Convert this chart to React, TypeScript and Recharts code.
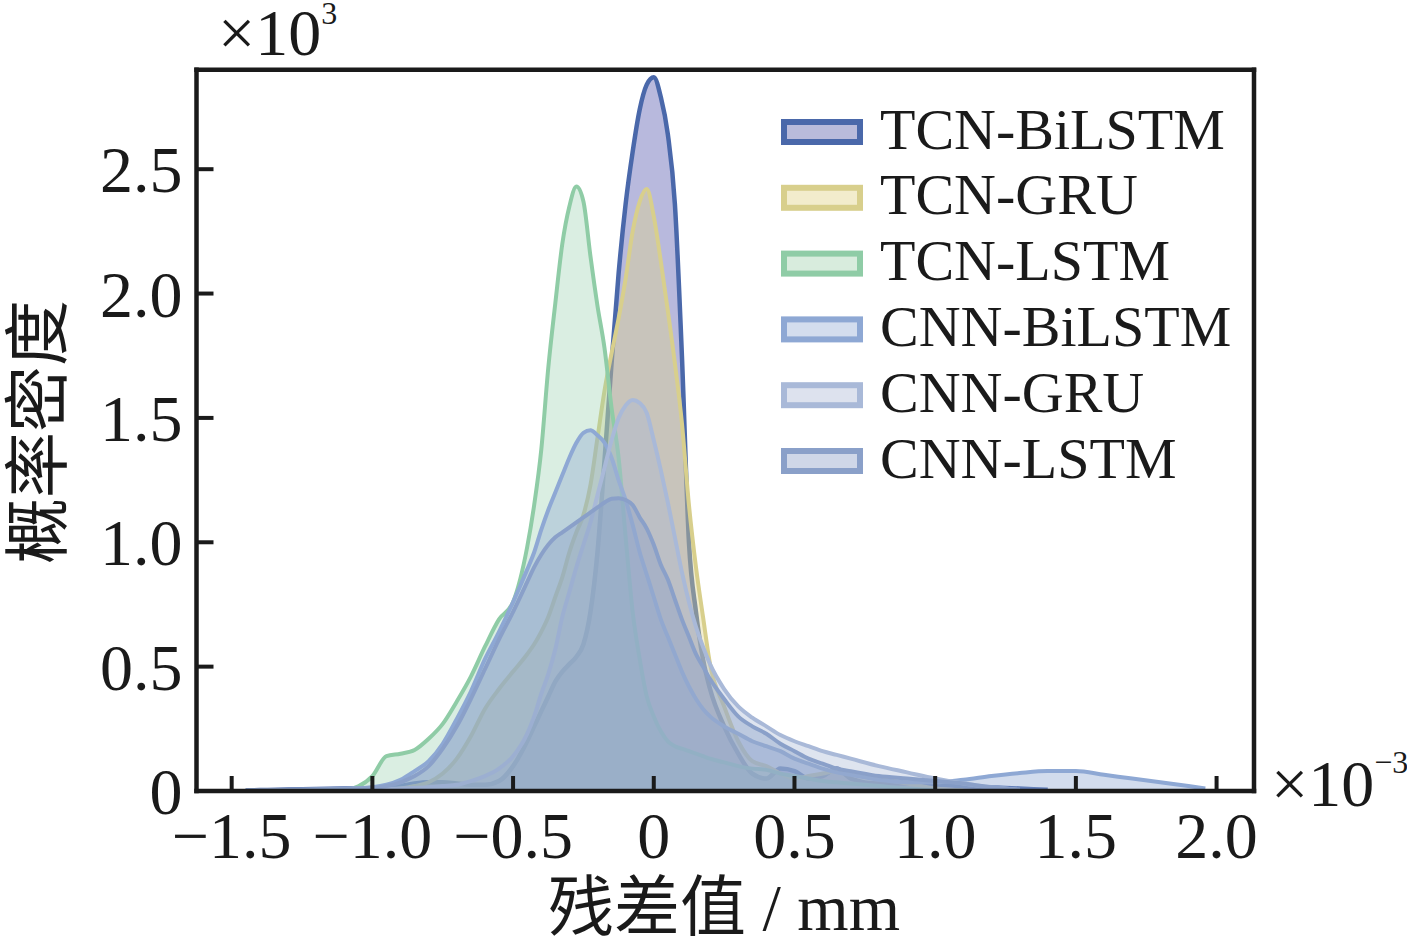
import { AreaChart, Area, XAxis, YAxis, Legend } from "recharts";

// residual (x10^-3 mm) sample points shared by all KDE curves
const X_VALUES = [
  -1.45, -1.4, -1.3, -1.2, -1.1, -1.0, -0.95, -0.9, -0.85, -0.8, -0.75, -0.7, -0.65, -0.6, -0.55, -0.5,
  -0.45, -0.425, -0.4, -0.375, -0.35, -0.325, -0.3, -0.275, -0.25, -0.225, -0.2, -0.175, -0.15, -0.125, -0.1, -0.075,
  -0.05, -0.025, 0, 0.025, 0.05, 0.075, 0.1, 0.125, 0.15, 0.175, 0.2, 0.25, 0.3, 0.35, 0.4, 0.45,
  0.5, 0.55, 0.6, 0.65, 0.7, 0.8, 0.9, 1.0, 1.1, 1.2, 1.3, 1.4, 1.5, 1.6, 1.7, 1.8, 1.9, 1.96,
];

// densities (x10^3)
const TCN_BILSTM = [
  0.002, 0.004, 0.006, 0.008, 0.01, 0.012, 0.015, 0.02, 0.03, 0.035, 0.035, 0.03, 0.025, 0.025, 0.04, 0.1,
  0.2, 0.26, 0.32, 0.38, 0.44, 0.48, 0.51, 0.54, 0.59, 0.72, 0.96, 1.33, 1.72, 2.08, 2.36, 2.57,
  2.74, 2.84, 2.87, 2.79, 2.64, 2.36, 1.75, 1.0, 0.72, 0.53, 0.41, 0.26, 0.15, 0.07, 0.05, 0.09,
  0.08, 0.05, 0.06, 0.09, 0.05, 0.03, 0.03, 0.025, 0.02, 0.015, 0.01, 0.005, null, null, null, null, null, null,
];
const TCN_GRU = [
  null, null, null, null, null, 0, 0.005, 0.01, 0.02, 0.035, 0.07, 0.13, 0.22, 0.33, 0.41, 0.48,
  0.55, 0.59, 0.64, 0.7, 0.78, 0.86, 0.96, 1.04, 1.11, 1.23, 1.42, 1.61, 1.76, 1.9, 2.06, 2.25,
  2.37, 2.42, 2.31, 2.13, 1.93, 1.72, 1.48, 1.15, 0.9, 0.7, 0.51, 0.34, 0.2, 0.12, 0.1, 0.07,
  0.05, 0.06, 0.07, 0.08, 0.07, 0.05, 0.03, 0.01, 0.003, null, null, null, null, null, null, null, null, null,
];
const TCN_LSTM = [
  null, null, null, null, 0, 0.06, 0.14, 0.15, 0.165, 0.21, 0.27, 0.36, 0.46, 0.58, 0.69, 0.76,
  0.98, 1.15, 1.37, 1.7, 1.96, 2.2, 2.35, 2.43, 2.37, 2.15, 1.95, 1.78, 1.54, 1.34, 1.02, 0.72,
  0.53, 0.38, 0.3, 0.24, 0.2, 0.18, 0.17, 0.16, 0.15, 0.14, 0.13, 0.115, 0.1, 0.09, 0.085, 0.07,
  0.06, 0.05, 0.04, 0.035, 0.03, 0.02, 0.01, 0.003, null, null, null, null, null, null, null, null, null, null,
];
const CNN_BILSTM = [
  0.002, 0.003, 0.004, 0.006, 0.008, 0.015, 0.025, 0.045, 0.08, 0.12, 0.19, 0.29, 0.4, 0.53, 0.64, 0.76,
  0.89, 0.96, 1.05, 1.13, 1.2, 1.27, 1.34, 1.4, 1.44, 1.45, 1.43, 1.4, 1.34, 1.25, 1.17, 1.07,
  0.96, 0.87, 0.78, 0.69, 0.62, 0.55, 0.48, 0.42, 0.37, 0.33, 0.3, 0.26, 0.23, 0.2, 0.18, 0.16,
  0.13, 0.11, 0.09, 0.075, 0.065, 0.045, 0.035, 0.035, 0.045, 0.06, 0.072, 0.08, 0.08, 0.065, 0.05, 0.035, 0.02, 0.01,
];
const CNN_GRU = [
  null, null, null, 0.002, 0.004, 0.006, 0.008, 0.01, 0.012, 0.015, 0.02, 0.025, 0.04, 0.06, 0.09, 0.14,
  0.23, 0.3, 0.39, 0.47, 0.57, 0.7, 0.8, 0.9, 0.99, 1.08, 1.19, 1.3, 1.41, 1.5, 1.55, 1.572,
  1.56, 1.52, 1.41, 1.29, 1.16, 1.02, 0.88, 0.76, 0.66, 0.58, 0.51, 0.41, 0.34, 0.295, 0.26, 0.225,
  0.2, 0.18, 0.16, 0.145, 0.13, 0.1, 0.075, 0.05, 0.03, 0.015, 0.005, null, null, null, null, null, null, null,
];
const CNN_LSTM = [
  0.002, 0.003, 0.005, 0.007, 0.01, 0.012, 0.02, 0.035, 0.06, 0.1, 0.17, 0.26, 0.37, 0.49, 0.61, 0.72,
  0.84, 0.9, 0.95, 0.99, 1.02, 1.04, 1.06, 1.08, 1.1, 1.12, 1.14, 1.16, 1.175, 1.177, 1.17, 1.15,
  1.1, 1.055, 0.99, 0.91, 0.85, 0.77, 0.69, 0.62, 0.55, 0.5, 0.45, 0.37, 0.3, 0.26, 0.23, 0.19,
  0.16, 0.13, 0.11, 0.09, 0.08, 0.06, 0.05, 0.04, 0.03, 0.015, 0.005, null, null, null, null, null, null, null,
];

const X_TICKS = [-1.5, -1, -0.5, 0, 0.5, 1, 1.5, 2];
const X_TICK_LABELS = ["−1.5", "−1.0", "−0.5", "0", "0.5", "1.0", "1.5", "2.0"];
const Y_TICKS = [0, 0.5, 1, 1.5, 2, 2.5];
const Y_TICK_LABELS = ["0", "0.5", "1.0", "1.5", "2.0", "2.5"];

const X_DOMAIN = [-1.625, 2.133];
const Y_DOMAIN = [0, 2.9];

const INK = "#1a1a1a";
const SERIF = "'Liberation Serif', 'Times New Roman', serif";
const CJK = "'Noto Sans CJK SC', sans-serif";

const SERIES = [
  { key: "tcnBiLSTM", name: "TCN-BiLSTM", values: TCN_BILSTM, stroke: "#4a68aa", fill: "#7173bb", opacity: 0.5, swatch: "#b9bbdb", width: 4.5 },
  { key: "tcnGRU", name: "TCN-GRU", values: TCN_GRU, stroke: "#d8cf8c", fill: "#e0d48a", opacity: 0.4, swatch: "#f2eccc", width: 4 },
  { key: "tcnLSTM", name: "TCN-LSTM", values: TCN_LSTM, stroke: "#8fcca6", fill: "#90cca8", opacity: 0.33, swatch: "#d8ecdd", width: 4 },
  { key: "cnnBiLSTM", name: "CNN-BiLSTM", values: CNN_BILSTM, stroke: "#8ea8d4", fill: "#8ea7d3", opacity: 0.4, swatch: "#d3ddee", width: 4 },
  { key: "cnnGRU", name: "CNN-GRU", values: CNN_GRU, stroke: "#a9b9d8", fill: "#a9b8d6", opacity: 0.38, swatch: "#dde2ee", width: 4 },
  { key: "cnnLSTM", name: "CNN-LSTM", values: CNN_LSTM, stroke: "#8aa0c9", fill: "#8aa0c9", opacity: 0.4, swatch: "#cfd7e8", width: 4 },
];

const rows = X_VALUES.map((x, i) => {
  const row: Record<string, number | null> = { x };
  for (const s of SERIES) row[s.key] = s.values[i];
  return row;
});

const frameLine = { stroke: INK, strokeWidth: 4.5, strokeLinecap: "square" as const };

function XTick(props: any) {
  const { x, y, payload } = props;
  const label = X_TICK_LABELS[X_TICKS.indexOf(payload.value)];
  return (
    <g>
      <line x1={x} x2={x} y1={y} y2={y - 15} stroke={INK} strokeWidth={4} />
      <text x={x} y={y + 67} textAnchor="middle" fontFamily={SERIF} fontSize={66} fill={INK}>
        {label}
      </text>
    </g>
  );
}

function YTick(props: any) {
  const { x, y, payload } = props;
  const label = Y_TICK_LABELS[Y_TICKS.indexOf(payload.value)];
  return (
    <g>
      {payload.value !== 0 && <line x1={x} x2={x + 17} y1={y} y2={y} stroke={INK} strokeWidth={4} />}
      <text x={x - 14} y={y + 23} textAnchor="end" fontFamily={SERIF} fontSize={66} fill={INK}>
        {label}
      </text>
    </g>
  );
}

function LegendBox() {
  return (
    <svg width={480} height={400} style={{ overflow: "visible" }}>
      {SERIES.map((s, i) => {
        const cy = 32 + i * 65.8;
        return (
          <g key={s.key}>
            <rect x={3} y={cy - 10} width={76} height={20} fill={s.swatch} stroke={s.stroke} strokeWidth={6} />
            <text x={99} y={cy + 16.5} fontFamily={SERIF} fontSize={58} fill={INK}>
              {s.name}
            </text>
          </g>
        );
      })}
    </svg>
  );
}

export default function App() {
  return (
    <div style={{ position: "absolute", left: 0, top: 0, background: "#fff" }}>
      <AreaChart
        width={1407}
        height={942}
        data={rows}
        margin={{ top: 68.7, right: 152, bottom: 150, left: 195.5 }}
      >
        {SERIES.map((s) => (
          <Area
            key={s.key}
            dataKey={s.key}
            name={s.name}
            type="monotone"
            stroke={s.stroke}
            strokeWidth={s.width}
            fill={s.fill}
            fillOpacity={s.opacity}
            dot={false}
            activeDot={false}
            isAnimationActive={false}
          />
        ))}
        <XAxis
          dataKey="x"
          type="number"
          domain={X_DOMAIN}
          allowDataOverflow
          ticks={X_TICKS}
          interval={0}
          height={1}
          tickSize={0}
          tickMargin={0}
          tickLine={false}
          axisLine={frameLine}
          tick={<XTick />}
        />
        <XAxis
          xAxisId="top"
          orientation="top"
          dataKey="x"
          type="number"
          domain={X_DOMAIN}
          allowDataOverflow
          height={1}
          tick={false}
          tickLine={false}
          axisLine={frameLine}
        />
        <YAxis
          type="number"
          domain={Y_DOMAIN}
          allowDataOverflow
          ticks={Y_TICKS}
          interval={0}
          width={1}
          tickSize={0}
          tickMargin={0}
          tickLine={false}
          axisLine={frameLine}
          tick={<YTick />}
        />
        <YAxis
          yAxisId="right"
          orientation="right"
          type="number"
          domain={Y_DOMAIN}
          allowDataOverflow
          width={1}
          tick={false}
          tickLine={false}
          axisLine={frameLine}
        />
        <Legend
          layout="horizontal"
          align="center"
          verticalAlign="middle"
          content={<LegendBox />}
          wrapperStyle={{ left: 781, top: 100, width: 480, height: 400 }}
        />
        <text x={218} y={55} fontFamily={SERIF} fontSize={66} fill={INK}>
          ×10
          <tspan fontSize={32} dy={-31}>3</tspan>
        </text>
        <text x={1271} y={806} fontFamily={SERIF} fontSize={66} fill={INK}>
          ×10
          <tspan fontSize={32} dy={-33}>−3</tspan>
        </text>
        <text x={724} y={930} textAnchor="middle" fontSize={66} fill={INK}>
          <tspan fontFamily={CJK}>残差值</tspan>
          <tspan fontFamily={SERIF}> / mm</tspan>
        </text>
        <text
          x={32}
          y={432}
          transform="rotate(-90 32 432)"
          textAnchor="middle"
          dominantBaseline="central"
          fontFamily={CJK}
          fontSize={66}
          fill={INK}
        >
          概率密度
        </text>
      </AreaChart>
    </div>
  );
}
